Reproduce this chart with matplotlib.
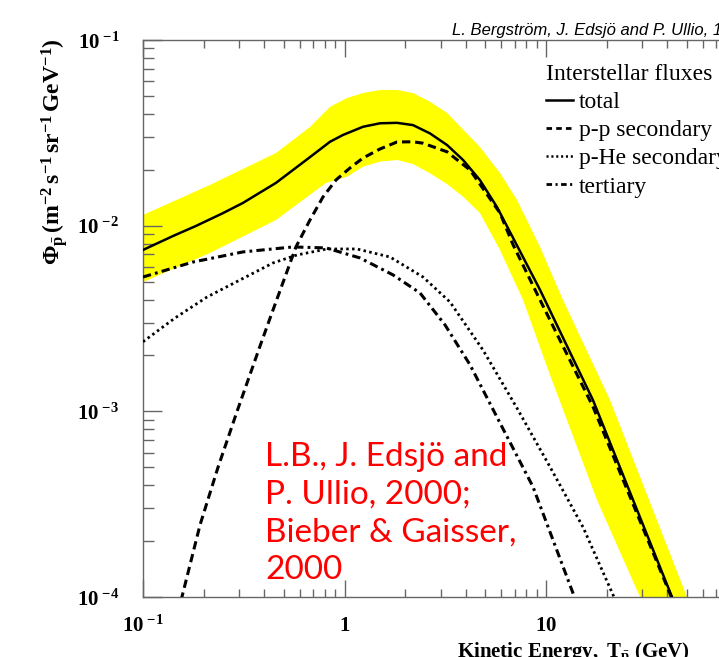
import numpy as np
import matplotlib
matplotlib.use("Agg")
import matplotlib.pyplot as plt
from matplotlib.ticker import FuncFormatter, NullFormatter, LogLocator
from matplotlib.lines import Line2D

plt.rcParams['mathtext.fontset'] = 'custom'
plt.rcParams['mathtext.rm'] = 'Liberation Serif:bold'
plt.rcParams['mathtext.bf'] = 'Liberation Serif:bold'
plt.rcParams['mathtext.it'] = 'Liberation Serif:italic:bold'
plt.rcParams['lines.scale_dashes'] = False

# ----------------------------
# Antiproton flux curves (GeV, m^-2 s^-1 sr^-1 GeV^-1)
# ----------------------------
E_total = [0.100, 0.141, 0.183, 0.25, 0.313, 0.457, 0.674, 0.847, 0.983, 1.236,
           1.500, 1.822, 2.188, 2.656, 3.226, 3.873, 4.70, 5.71, 6.86, 9.34,
           17.1, 42.2, 50.0]
phi_total = [7.40e-3, 8.8e-3, 9.96e-3, 1.17e-2, 1.325e-2, 1.70e-2, 2.34e-2, 2.83e-2,
             3.08e-2, 3.41e-2, 3.56e-2, 3.58e-2, 3.48e-2, 3.14e-2, 2.72e-2, 2.26e-2,
             1.76e-2, 1.26e-2, 8.6e-3, 4.51e-3, 1.15e-3, 1.00e-4, 6.3e-5]

E_pp = [0.1426, 0.156, 0.192, 0.236, 0.293, 0.381, 0.442, 0.574, 0.674, 0.782,
        0.907, 1.065, 1.236, 1.500, 1.822, 2.188, 2.453, 3.226, 4.197, 5.91,
        6.86, 9.34, 17.1, 42.2, 58.0]
phi_pp = [5.9e-5, 1.0e-4, 2.45e-4, 5.02e-4, 1.00e-3, 2.25e-3, 3.52e-3, 7.68e-3,
          1.073e-2, 1.427e-2, 1.762e-2, 2.046e-2, 2.315e-2, 2.588e-2, 2.823e-2,
          2.83e-2, 2.78e-2, 2.50e-2, 1.995e-2, 1.17e-2, 7.9e-3, 3.98e-3, 1.06e-3,
          9.8e-5, 4.3e-5]

E_phe = [0.100, 0.144, 0.208, 0.303, 0.442, 0.580, 0.818, 1.153, 1.682, 2.453,
         3.339, 4.866, 7.18, 10.47, 15.26, 21.75, 23.84]
phi_phe = [2.37e-3, 3.18e-3, 4.13e-3, 5.1e-3, 6.30e-3, 6.95e-3, 7.49e-3, 7.49e-3,
           6.78e-3, 5.29e-3, 3.88e-3, 2.14e-3, 1.04e-3, 5.02e-4, 2.38e-4, 1.0e-4, 7.5e-5]

E_tert = [0.100, 0.177, 0.313, 0.554, 0.809, 1.194, 1.741, 2.370, 3.154, 4.197,
          5.91, 8.62, 13.61, 15.6]
phi_tert = [5.29e-3, 6.37e-3, 7.22e-3, 7.68e-3, 7.59e-3, 6.70e-3, 5.43e-3, 4.34e-3,
            2.92e-3, 1.78e-3, 8.66e-4, 3.92e-4, 1.05e-4, 7.1e-5]

# uncertainty band around the total flux
E_band_hi = [0.100, 0.215, 0.457, 0.674, 0.847, 1.029, 1.236, 1.500, 1.822, 2.188,
             2.656, 3.226, 4.70, 5.91, 7.18, 9.34, 12.14, 20.78, 50.1, 58.1]
phi_band_hi = [1.142e-2, 1.657e-2, 2.462e-2, 3.40e-2, 4.36e-2, 4.87e-2, 5.18e-2,
               5.38e-2, 5.38e-2, 5.18e-2, 4.65e-2, 4.05e-2, 2.653e-2, 1.922e-2,
               1.376e-2, 7.68e-3, 3.98e-3, 1.15e-3, 1.0e-4, 6.9e-5]
E_band_lo = [0.100, 0.215, 0.457, 0.809, 1.029, 1.236, 1.500, 1.822, 2.188, 2.656,
             3.226, 3.873, 4.70, 5.91, 7.69, 10.47, 17.91, 29.28, 36.8]
phi_band_lo = [4.97e-3, 7.13e-3, 1.073e-2, 1.698e-2, 1.836e-2, 2.078e-2, 2.211e-2,
               2.258e-2, 2.149e-2, 1.914e-2, 1.677e-2, 1.433e-2, 1.170e-2, 7.4e-3,
               3.98e-3, 1.57e-3, 3.33e-4, 1.0e-4, 5.7e-5]

W, H = 719, 657
fig = plt.figure(figsize=(W / 100, H / 100), dpi=100)
ax = fig.add_axes([143 / W, 60 / H, (747.5 - 143) / W, 557 / H])

ax.fill(np.concatenate([E_band_hi, E_band_lo[::-1]]),
        np.concatenate([phi_band_hi, phi_band_lo[::-1]]),
        color='#ffff00', lw=0, zorder=1)

ax.plot(E_total, phi_total, color='black', lw=1.8, zorder=3)
ax.plot(E_pp, phi_pp, color='black', lw=2.2, dashes=[6, 3.5], zorder=3)
ax.plot(E_phe, phi_phe, color='black', lw=2.0, dashes=[1.8, 2.4], zorder=3)
ax.plot(E_tert, phi_tert, color='black', lw=2.2, dashes=[6, 3, 2, 3], zorder=3)

ax.set_xscale('log')
ax.set_yscale('log')
ax.set_xlim(0.1, 100)
ax.set_ylim(1e-4, 1e-1)

spine_col = '#666666'
for s in ax.spines.values():
    s.set_color(spine_col)
    s.set_linewidth(1.0)

ax.xaxis.set_minor_locator(LogLocator(base=10, subs=np.arange(2, 10)))
ax.yaxis.set_minor_locator(LogLocator(base=10, subs=np.arange(2, 10)))
ax.tick_params(which='both', direction='in', top=True, right=True, color=spine_col,
               width=1.0)
ax.tick_params(axis='y', which='major', length=14)
ax.tick_params(axis='y', which='minor', length=8)
ax.tick_params(axis='x', which='major', length=12)
ax.tick_params(axis='x', which='minor', length=6)


def xfmt(v, pos):
    if abs(v - 0.1) < 1e-9:
        return r'$\mathbf{10}^{\ \mathbf{-1}}$'
    if abs(v - 1) < 1e-9:
        return r'$\mathbf{1}$'
    if abs(v - 10) < 1e-9:
        return r'$\mathbf{10}$'
    return ''


def yfmt(v, pos):
    e = int(round(np.log10(v)))
    return r'$\mathbf{10}^{\ \mathbf{%d}}$' % e


ax.xaxis.set_major_formatter(FuncFormatter(xfmt))
ax.yaxis.set_major_formatter(FuncFormatter(yfmt))
ax.xaxis.set_minor_formatter(NullFormatter())
ax.yaxis.set_minor_formatter(NullFormatter())
ax.tick_params(axis='both', which='major', labelsize=15, labelcolor='black')
ax.tick_params(axis='x', pad=13)
ax.tick_params(axis='y', pad=17)

fig.text(55 / W, 1 - 38 / H,
         r'$\Phi_{\bar{\mathrm{p}}}\,(\mathrm{m^{-2}\,s^{-1}\,sr^{-1}\,GeV^{-1}})$',
         rotation=90, ha='center', va='top', fontsize=17)
fig.text(457 / W, 1 - 653 / H,
         r'$\mathrm{Kinetic\ Energy,\ T_{\bar{p}}\ (GeV)}$',
         ha='left', va='center', fontsize=15)

fig.text(452 / W, 1 - 31 / H, 'L. Bergström, J. Edsjö and P. Ullio, 1999',
         family='Liberation Sans', style='italic', fontsize=12, ha='left', va='center')

handles = [
    Line2D([], [], color='black', lw=1.8),
    Line2D([], [], color='black', lw=2.0, dashes=[4, 3]),
    Line2D([], [], color='black', lw=1.8, dashes=[1.5, 2]),
    Line2D([], [], color='black', lw=2.0, dashes=[4, 2.5, 1.5, 2.5]),
]
labels = ['total', 'p-p secondary', 'p-He secondary', 'tertiary']
leg = ax.legend(handles, labels, title='Interstellar fluxes', loc='upper left',
                bbox_to_anchor=(546 / W, 1 - 64 / H), bbox_transform=fig.transFigure,
                frameon=False, prop={'family': 'Liberation Serif', 'size': 17},
                title_fontproperties={'family': 'Liberation Serif', 'size': 17},
                alignment='left', handlelength=1.15, handletextpad=0.25,
                labelspacing=0.28, borderpad=0, borderaxespad=0)

ax.text(265 / W, 1 - 442 / H,
        'L.B., J. Edsjö and\nP. Ullio, 2000;\nBieber & Gaisser,\n2000',
        transform=fig.transFigure, color='red', family='Lato', fontsize=24,
        ha='left', va='top', linespacing=1.32, zorder=4)

fig.savefig('out.png', dpi=100)
